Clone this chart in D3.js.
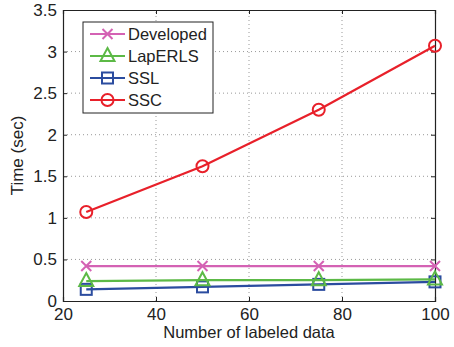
<!DOCTYPE html>
<html>
<head>
<meta charset="utf-8">
<script src="https://cdn.jsdelivr.net/npm/d3@7"></script>
<style>
  body { margin: 0; background: #fff; }
  svg { display: block; font-family: "Liberation Sans", Arial, sans-serif; }
</style>
</head>
<body>
<svg width="454" height="347"></svg>
<script>
// data
var labeled = [25, 50, 75, 100];
var developed = [0.42, 0.42, 0.42, 0.42];
var laperls = [0.24, 0.25, 0.25, 0.26];
var ssl = [0.14, 0.17, 0.20, 0.23];
var ssc = [1.07, 1.62, 2.30, 3.07];
var seriesNames = ["Developed", "LapERLS", "SSL", "SSC"];
var xTicks = [20, 40, 60, 80, 100];
var yTicks = [0, 0.5, 1, 1.5, 2, 2.5, 3, 3.5];

var colors = { Developed: "#d462b4", LapERLS: "#5cb946", SSL: "#2b4c9f", SSC: "#e8202a" };
var shapes = { Developed: "x", LapERLS: "tri", SSL: "sq", SSC: "circ" };
var values = { Developed: developed, LapERLS: laperls, SSL: ssl, SSC: ssc };

var margin = { left: 63, top: 10, right: 19, bottom: 46 };
var width = 454, height = 347;
var svg = d3.select("svg");

var xscale = d3.scaleLinear().domain([20, 100]).range([margin.left, width - margin.right]);
var yscale = d3.scaleLinear().domain([0, 3.5]).range([height - margin.bottom, margin.top]);

// dotted grid
svg.append("g").selectAll("line").data(xTicks.slice(1, -1)).enter().append("line")
   .attr("x1", d => xscale(d)).attr("x2", d => xscale(d))
   .attr("y1", yscale(0)).attr("y2", yscale(3.5))
   .attr("stroke", "#999").attr("stroke-dasharray", "1,3");
svg.append("g").selectAll("line").data(yTicks.slice(1, -1)).enter().append("line")
   .attr("x1", xscale(20)).attr("x2", xscale(100))
   .attr("y1", d => yscale(d)).attr("y2", d => yscale(d))
   .attr("stroke", "#999").attr("stroke-dasharray", "1,3");

// axes
var xaxis = svg.append("g").attr("transform", "translate(0," + yscale(0) + ")")
   .call(d3.axisBottom(xscale).tickValues(xTicks).tickSize(-4).tickPadding(7).tickFormat(d3.format("d")));
var xaxisTop = svg.append("g").attr("transform", "translate(0," + yscale(3.5) + ")")
   .call(d3.axisTop(xscale).tickValues(xTicks).tickSize(-4).tickFormat(""));
var yaxis = svg.append("g").attr("transform", "translate(" + xscale(20) + ",0)")
   .call(d3.axisLeft(yscale).tickValues(yTicks).tickSize(-4).tickPadding(6).tickFormat(d3.format("")));
var yaxisRight = svg.append("g").attr("transform", "translate(" + xscale(100) + ",0)")
   .call(d3.axisRight(yscale).tickValues(yTicks).tickSize(-4).tickFormat(""));

[xaxis, xaxisTop, yaxis, yaxisRight].forEach(function(g) {
  g.select(".domain").attr("stroke", "#222").attr("stroke-width", 1.2);
  g.selectAll(".tick line").attr("stroke", "#222");
  g.selectAll("text").attr("font-size", 17).attr("fill", "#222")
   .attr("font-family", "Liberation Sans, Arial, sans-serif");
});

// axis labels
svg.append("text").attr("x", xscale(60)).attr("y", 338).attr("text-anchor", "middle")
   .attr("font-size", 16.5).attr("fill", "#222").text("Number of labeled data");
svg.append("text").attr("transform", "translate(23," + yscale(1.75) + ") rotate(-90)")
   .attr("text-anchor", "middle").attr("font-size", 17).attr("fill", "#222").text("Time (sec)");

function drawMarker(g, shape, cx, cy, color) {
  if (shape === "x") {
    g.append("path").attr("d", "M" + (cx - 5) + "," + (cy - 5) + "L" + (cx + 5) + "," + (cy + 5) +
       "M" + (cx - 5) + "," + (cy + 5) + "L" + (cx + 5) + "," + (cy - 5))
     .attr("stroke", color).attr("stroke-width", 2).attr("fill", "none");
  } else if (shape === "tri") {
    g.append("path").attr("d", "M" + cx + "," + (cy - 8) + "L" + (cx + 7) + "," + (cy + 5) + "L" + (cx - 7) + "," + (cy + 5) + "Z")
     .attr("stroke", color).attr("stroke-width", 2).attr("fill", "none");
  } else if (shape === "sq") {
    g.append("rect").attr("x", cx - 5.5).attr("y", cy - 5.5).attr("width", 11).attr("height", 11)
     .attr("stroke", color).attr("stroke-width", 2).attr("fill", "none");
  } else {
    g.append("circle").attr("cx", cx).attr("cy", cy).attr("r", 6)
     .attr("stroke", color).attr("stroke-width", 2).attr("fill", "none");
  }
}

var line = d3.line().x(d => xscale(d[0])).y(d => yscale(d[1]));

// draw in reverse so Developed sits on top
seriesNames.slice().reverse().forEach(function(name) {
  var pts = labeled.map((x, i) => [x, values[name][i]]);
  var g = svg.append("g");
  g.append("path").datum(pts).attr("d", line).attr("fill", "none")
   .attr("stroke", colors[name]).attr("stroke-width", 2.2);
  pts.forEach(p => drawMarker(g, shapes[name], xscale(p[0]), yscale(p[1]), colors[name]));
});

// legend
var legend = svg.append("g").attr("transform", "translate(83,22)");
legend.append("rect").attr("width", 130).attr("height", 91).attr("fill", "#fff")
   .attr("stroke", "#222").attr("stroke-width", 1);
seriesNames.forEach(function(name, i) {
  var y = 12 + i * 22;
  legend.append("line").attr("x1", 7).attr("x2", 42).attr("y1", y).attr("y2", y)
   .attr("stroke", colors[name]).attr("stroke-width", 2.2);
  drawMarker(legend, shapes[name], 24.5, y, colors[name]);
  legend.append("text").attr("x", 45).attr("y", y + 6).attr("font-size", 16.5)
   .attr("fill", "#222").text(name);
});
</script>
</body>
</html>
